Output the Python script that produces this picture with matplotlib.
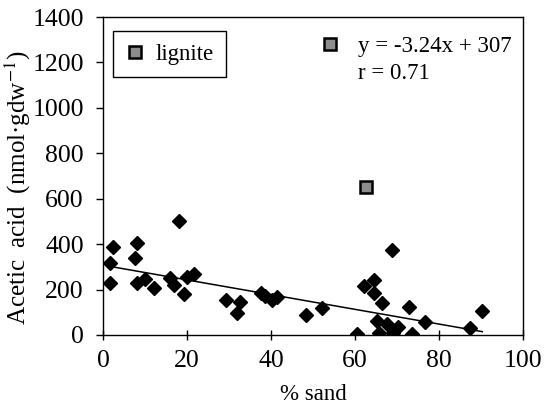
import matplotlib
matplotlib.use("Agg")
import matplotlib.pyplot as plt
from matplotlib.lines import Line2D

# % sand vs acetic acid (nmol/gdw)
sand = [2.4, 1.6, 1.6, 8.0, 7.5, 8.0, 9.9, 12.1, 18.1, 15.9, 16.8, 19.2, 20.0,
        21.6, 29.2, 32.7, 31.9, 37.5, 38.5, 40.1, 41.3, 48.3, 52.0, 60.4,
        68.7, 64.5, 62.1, 64.5, 66.4, 72.9, 65.1, 67.6, 70.2, 65.7, 69.1,
        73.5, 76.7, 87.3, 90.3]
acetic = [389, 316, 230, 404, 338, 230, 245, 206, 502, 250, 220, 179, 254,
          267, 154, 147, 96, 185, 172, 154, 166, 88, 118, 5,
          374, 242, 216, 184, 142, 123, 62, 50, 34, 7, 8,
          5, 56, 29, 106]
lignite_sand = [62.7]
lignite_acetic = [650]

slope, intercept, r = -3.24, 307, 0.71

plt.rcParams["font.family"] = ["Liberation Serif", "DejaVu Serif"]
plt.rcParams["mathtext.fontset"] = "stix"
plt.rcParams["font.size"] = 16.5

fig = plt.figure(figsize=(5.46, 4.05), dpi=100)
ax = fig.add_axes([0.189, 0.173, 0.769, 0.785])

ax.plot(sand, acetic, ls="none", marker="D", ms=7, color="black")
xs = [min(sand), max(sand)]
ax.plot(xs, [slope * x + intercept for x in xs], color="black", lw=1.1)
ax.plot(lignite_sand, lignite_acetic, ls="none", marker="s", ms=8.5,
        mfc="#8c8c8c", mec="black", mew=1.8)

ax.set_xlim(0, 100)
ax.set_ylim(0, 1400)
ax.set_xticks(range(0, 101, 20))
ax.set_yticks(range(0, 1401, 200))
ax.tick_params(axis="both", labelsize=18.5)
ax.tick_params(axis="y", direction="out", length=5, width=1, pad=9)
ax.tick_params(axis="x", direction="inout", length=7, width=1, pad=7)
for s in ax.spines.values():
    s.set_linewidth(1)

ax.set_xlabel("% sand", labelpad=9)
ax.set_ylabel("Acetic  acid  (nmol·gdw$^{-1}$)", fontsize=18)
ax.yaxis.set_label_coords(-0.168, 0.462)

sq = Line2D([], [], ls="none", marker="s", ms=8.5, mfc="#8c8c8c",
            mec="black", mew=1.8)
leg1 = ax.legend([sq], ["lignite"], loc="upper left",
                 bbox_to_anchor=(0.023, 0.956), borderaxespad=0,
                 fancybox=False, edgecolor="black", framealpha=1,
                 handlelength=0.8, handletextpad=0.5, borderpad=0.55)
leg1.get_frame().set_linewidth(1)
ax.add_artist(leg1)

blank = Line2D([], [], ls="none")
ax.legend([sq, blank], [f"y = {slope}x + {intercept}", f"r = {r}"],
          loc="upper left", bbox_to_anchor=(0.49, 0.97), borderaxespad=0,
          frameon=False, handlelength=1.0, handletextpad=0.75,
          labelspacing=0.25)

fig.savefig("out.png", dpi=100)
